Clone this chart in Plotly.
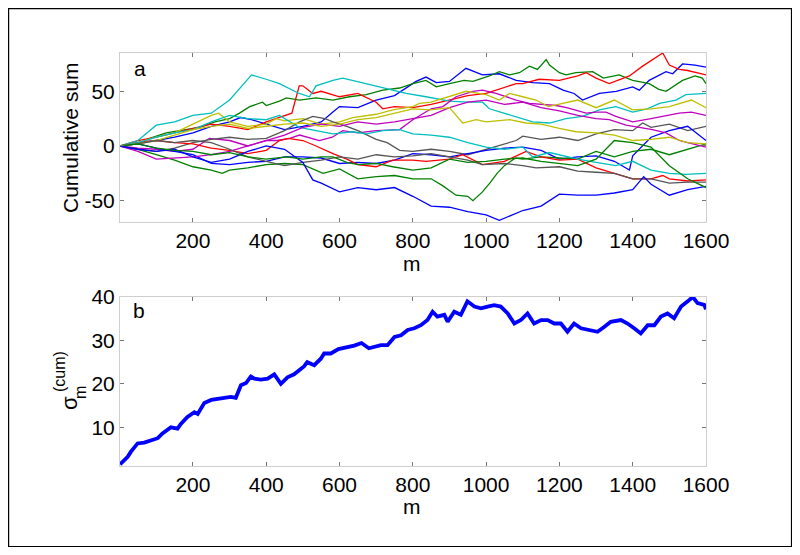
import plotly.graph_objects as go

# ---------------- data ----------------
# panel a: cumulative sums, (m, value) samples
BLUE_1 = [(0,0),(50,3),(100,5),(150,8),(200,12),(250,18),(300,22),(330,26),(360,24),(400,20),(450,15),(500,18),(550,22),(582,31),(600,36),(650,35),(700,42),(750,46),(782,53),(809,59),(836,63),(864,58),(900,59),(945,71),(990,65),(1036,66),(1082,60),(1127,58),(1173,57),(1210,51),(1240,48),(1263,42),(1309,48),(1355,50),(1400,54),(1418,51),(1445,60),(1491,68),(1509,66),(1536,75),(1570,74),(1600,72)]
GREEN_1 = [(0,0),(50,2),(82,7),(127,12),(180,15),(218,17),(260,22),(300,25),(327,30),(355,36),(390,40),(400,37),(436,41),(455,44),(491,42),(536,44),(582,42),(627,45),(673,47),(718,51),(764,53),(800,57),(836,60),(864,54),(900,57),(940,60),(964,59),(1009,64),(1036,68),(1064,65),(1091,67),(1118,73),(1140,70),(1164,79),(1173,74),(1200,67),(1218,65),(1245,67),(1291,68),(1320,62),(1363,65),(1400,60),(1445,57),(1470,52),(1491,50),(1520,56),(1536,60),(1570,64),(1590,62),(1600,57)]
RED_1 = [(0,0),(50,5),(100,8),(150,12),(200,16),(250,20),(300,18),(350,15),(400,22),(450,28),(470,30),(490,55),(500,55),(527,48),(550,50),(600,45),(650,48),(700,40),(718,34),(750,36),(800,35),(850,38),(900,42),(950,46),(1000,48),(1054,54),(1082,57),(1100,57),(1145,61),(1200,60),(1250,64),(1273,67),(1300,62),(1336,57),(1391,64),(1427,73),(1454,79),(1482,85),(1500,74),(1527,70),(1550,69),(1600,65)]
CYAN_1 = [(0,0),(50,5),(100,19),(150,22),(200,28),(250,30),(300,42),(330,54),(360,65),(400,61),(436,57),(490,48),(518,45),(536,55),(582,60),(609,62),(650,59),(673,57),(709,54),(745,51),(782,48),(836,45),(900,41),(950,40),(990,40),(1009,34),(1050,30),(1082,27),(1127,22),(1173,21),(1218,25),(1263,27),(1309,33),(1354,36),(1400,31),(1440,34),(1473,39),(1518,42),(1545,47),(1600,48)]
MAGENTA_1 = [(0,0),(50,-2),(100,-3),(150,-5),(200,-3),(245,7),(300,5),(350,0),(400,5),(430,5),(464,7),(491,10),(545,5),(580,8),(609,14),(650,12),(700,14),(764,15),(800,24),(850,34),(882,36),(918,45),(964,50),(990,51),(1027,48),(1082,42),(1118,39),(1150,38),(1191,37),(1220,35),(1250,32),(1273,30),(1300,31),(1327,31),(1354,27),(1400,22),(1450,25),(1491,28),(1527,30),(1560,31),(1600,28)]
YELLOW_1 = [(0,0),(50,3),(100,8),(150,12),(200,20),(250,28),(270,30),(300,22),(350,18),(400,20),(427,25),(450,23),(500,25),(550,20),(600,22),(636,26),(700,29),(745,33),(800,36),(818,39),(850,40),(900,45),(945,50),(980,48),(1000,47),(1036,42),(1064,48),(1100,45),(1136,42),(1170,36),(1200,38),(1250,42),(1300,35),(1350,42),(1400,33),(1450,34),(1500,36),(1536,40),(1560,42),(1600,35)]
GRAY_1 = [(0,0),(50,-3),(100,-5),(150,-2),(200,3),(250,6),(300,8),(350,6),(400,7),(450,14),(491,22),(527,27),(560,25),(582,22),(620,18),(650,14),(700,6),(730,3),(764,-4),(800,-5),(850,-3),(900,-5),(950,-8),(1000,-3),(1050,2),(1082,5),(1100,9),(1150,6),(1200,8),(1250,5),(1300,11),(1350,15),(1400,14),(1427,21),(1450,17),(1500,20),(1550,14),(1600,18)]
BLUE_2 = [(0,0),(50,2),(100,-2),(150,-5),(200,-8),(250,-16),(300,-17),(350,-15),(400,-14),(450,-10),(500,-10),(550,-11),(600,-16),(650,-15),(700,-16),(750,-13),(800,-7),(850,-8),(900,-10),(950,-7),(1000,-4),(1050,-2),(1100,-1),(1150,-4),(1200,-12),(1250,-10),(1300,-9),(1350,-14),(1391,-22),(1400,-9),(1450,8),(1500,14),(1550,18),(1600,5)]
GREEN_2 = [(0,0),(50,-3),(100,-8),(150,-13),(200,-19),(250,-22),(280,-25),(300,-22),(350,-20),(400,-17),(450,-16),(500,-17),(555,-25),(600,-21),(650,-30),(700,-28),(750,-27),(800,-30),(850,-30),(880,-36),(918,-45),(950,-46),(964,-50),(990,-42),(1010,-34),(1030,-25),(1050,-18),(1080,-11),(1100,-12),(1150,-10),(1200,-11),(1250,-12),(1300,-5),(1350,-10),(1400,-5),(1450,-3),(1500,-8),(1550,-3),(1600,2)]
RED_2 = [(0,0),(50,3),(100,5),(150,3),(200,2),(250,-2),(300,-4),(350,-7),(400,-4),(436,5),(460,7),(500,5),(536,0),(582,-7),(620,-12),(650,-17),(700,-19),(745,-13),(800,-13),(836,-14),(900,-12),(936,-8),(990,-17),(1050,-14),(1109,-5),(1150,-10),(1200,-13),(1250,-12),(1300,-20),(1350,-25),(1400,-30),(1450,-30),(1482,-27),(1500,-30),(1550,-32),(1600,-31)]
CYAN_2 = [(0,0),(50,3),(100,8),(150,12),(200,15),(250,22),(300,28),(350,25),(400,24),(436,28),(490,17),(536,14),(582,11),(636,13),(673,11),(718,14),(764,15),(800,11),(850,10),(900,8),(950,3),(1000,-1),(1050,-3),(1100,-1),(1127,-10),(1173,-6),(1200,-8),(1250,-12),(1300,-15),(1354,-18),(1400,-14),(1450,-22),(1500,-25),(1545,-26),(1600,-25)]
MAGENTA_2 = [(0,0),(50,-5),(100,-12),(150,-11),(200,-10),(250,-8),(300,-5),(350,0),(400,5),(450,10),(500,17),(550,20),(600,18),(650,22),(700,20),(750,22),(800,25),(850,28),(900,35),(950,40),(1000,42),(1050,38),(1100,40),(1150,35),(1200,32),(1250,28),(1300,25),(1336,24),(1382,19),(1400,18),(1454,15),(1491,12),(1527,5),(1550,3),(1600,-1)]
YELLOW_2 = [(0,0),(50,2),(100,5),(150,10),(200,15),(250,18),(300,20),(350,16),(400,18),(450,20),(500,21),(550,18),(600,20),(650,24),(700,26),(750,30),(800,34),(850,33),(900,35),(936,21),(973,24),(1000,22),(1064,24),(1109,21),(1150,20),(1200,16),(1245,13),(1300,12),(1350,10),(1400,5),(1450,6),(1500,8),(1550,3),(1600,2)]
GRAY_2 = [(0,0),(50,2),(100,5),(150,3),(200,5),(250,3),(300,-3),(350,-10),(400,-14),(450,-18),(500,-15),(550,-13),(600,-10),(650,-12),(700,-8),(750,-10),(800,-9),(850,-7),(900,-10),(950,-13),(990,-17),(1050,-16),(1100,-18),(1136,-20),(1200,-19),(1250,-23),(1300,-24),(1350,-25),(1400,-30),(1450,-30),(1500,-34),(1550,-33),(1600,-33)]
BLUE_3 = [(0,0),(50,-3),(100,-5),(150,-3),(200,-10),(250,-15),(300,-12),(350,-5),(400,0),(450,-3),(500,-15),(527,-31),(550,-34),(600,-42),(650,-38),(700,-40),(750,-38),(800,-46),(850,-55),(900,-56),(950,-60),(1000,-63),(1036,-68),(1050,-66),(1100,-59),(1150,-55),(1200,-44),(1250,-45),(1300,-45),(1350,-43),(1400,-40),(1430,-28),(1450,-35),(1500,-45),(1550,-40),(1600,-37)]
GREEN_3 = [(0,0),(50,2),(100,-2),(150,-4),(200,-5),(250,-8),(300,-6),(350,-10),(400,-12),(455,-10),(500,-12),(550,-10),(582,-10),(620,-15),(650,-17),(700,-16),(745,-19),(800,-22),(850,-20),(900,-12),(950,-15),(1000,-14),(1050,-12),(1100,-11),(1150,-14),(1200,-16),(1250,-18),(1300,-12),(1350,5),(1400,3),(1450,-1),(1500,-18),(1550,-30),(1600,-38)]

# panel b: sigma_m^(cum)
SIGMA = [(1,1.5),(22,3.2),(31,4.4),(49,6.3),(67,6.5),(85,7),(104,7.5),(117,8.6),(140,10),(158,9.7),(167,10.8),(185,12.4),(204,13.5),(213,13.1),(231,15.6),(250,16.3),(276,16.7),(303,17),(317,16.8),(331,19.7),(345,20.2),(358,21.7),(368,21.2),(385,21),(404,21.2),(422,22.2),(440,20),(458,21.5),(476,22.2),(503,24),(512,25),(531,24.3),(549,25.8),(558,27),(576,27),(597,28),(640,28.8),(660,29.4),(680,28.2),(713,28.9),(731,28.9),(750,30.8),(768,31.2),(786,32.4),(804,32.8),(822,33.5),(840,34.7),(854,36.6),(867,35.5),(886,35.9),(895,34.3),(913,36.6),(931,35.9),(949,39),(968,37.8),(986,37.4),(1004,37.8),(1022,38.1),(1040,37.8),(1059,36.2),(1077,33.9),(1095,34.7),(1113,36.2),(1131,33.9),(1150,34.7),(1168,34.7),(1186,33.9),(1204,33.9),(1222,32),(1240,33.9),(1259,32.8),(1286,32.4),(1304,32),(1322,33.1),(1340,34.3),(1368,34.7),(1386,33.9),(1404,32.8),(1422,31.6),(1441,33.5),(1459,33.5),(1477,35.5),(1495,36.2),(1513,35.1),(1532,37.8),(1550,39),(1564,40),(1577,38.6),(1595,38.2),(1600,37.2)]

X_TICKS = [200, 400, 600, 800, 1000, 1200, 1400, 1600]
YA_TICKS = [-50, 0, 50]
YA_LABELS = ["-50", "0", "50"]
YB_TICKS = [10, 20, 30, 40]

# ---------------- styles ----------------
C_BLUE = "rgb(0,0,255)"
C_GREEN = "rgb(0,128,0)"
C_RED = "rgb(255,0,0)"
C_CYAN = "rgb(0,191,191)"
C_MAG = "rgb(191,0,191)"
C_YEL = "rgb(191,191,0)"
C_GRAY = "rgb(85,85,85)"

series = [
    (BLUE_1, C_BLUE), (GREEN_1, C_GREEN), (RED_1, C_RED), (CYAN_1, C_CYAN),
    (MAGENTA_1, C_MAG), (YELLOW_1, C_YEL), (GRAY_1, C_GRAY),
    (BLUE_2, C_BLUE), (GREEN_2, C_GREEN), (RED_2, C_RED), (CYAN_2, C_CYAN),
    (MAGENTA_2, C_MAG), (YELLOW_2, C_YEL), (GRAY_2, C_GRAY),
    (BLUE_3, C_BLUE), (GREEN_3, C_GREEN),
]

fig = go.Figure()
for pts, col in series:
    fig.add_trace(go.Scatter(
        x=[p[0] for p in pts], y=[p[1] for p in pts], mode="lines",
        line=dict(color=col, width=1.3), xaxis="x", yaxis="y", showlegend=False))

fig.add_trace(go.Scatter(
    x=[p[0] for p in SIGMA], y=[p[1] for p in SIGMA], mode="lines",
    line=dict(color=C_BLUE, width=3.8), xaxis="x2", yaxis="y2", showlegend=False))

FONT = "Liberation Sans, Arial, sans-serif"
axis_common = dict(showline=True, linecolor="#cfcfcf", linewidth=1, mirror="ticks",
                   ticks="inside", ticklen=4, tickcolor="#777", showgrid=False,
                   zeroline=False, tickfont=dict(family=FONT, size=21, color="black"))

# The page adds an 8 px body margin, so the figure is 8 px smaller and shifted.
W, H = 792, 547
fig.update_layout(
    width=W, height=H, autosize=False,
    paper_bgcolor="white", plot_bgcolor="white",
    margin=dict(l=112, r=94, t=45, b=89),
    xaxis=dict(domain=[0, 1], range=[1, 1600], tickvals=X_TICKS, anchor="y", **axis_common),
    yaxis=dict(domain=[0.5908, 1], range=[-69.5, 85], tickvals=YA_TICKS, ticktext=YA_LABELS,
               anchor="x", **axis_common),
    xaxis2=dict(domain=[0, 1], range=[1, 1600], tickvals=X_TICKS, anchor="y2", **axis_common),
    yaxis2=dict(domain=[0, 0.4092], range=[1.1, 40], tickvals=YB_TICKS, anchor="x2", **axis_common),
)

# screen pixel -> paper coordinate helpers (screen = figure + 8)
def px_x(px):
    return (px - 120) / 586

def px_y(py):
    return (466 - py) / 413

# outer frame
fig.add_shape(type="rect", xref="paper", yref="paper",
              x0=px_x(8.6), x1=px_x(791.5), y0=px_y(546.5), y1=px_y(8.6),
              line=dict(color="black", width=1.2), fillcolor="rgba(0,0,0,0)")

def note(text, x, y, size=21, angle=0):
    fig.add_annotation(text=text, x=px_x(x), y=px_y(y), xref="paper", yref="paper",
                       showarrow=False, textangle=angle, xanchor="center", yanchor="middle",
                       font=dict(family=FONT, size=size, color="black"))

note("a", 140, 68)
note("b", 139, 310)
note("m", 412, 263)
note("m", 412, 507)
note("Cumulative sum", 70, 137, angle=-90)
note("σ", 69, 403, size=22, angle=-90)
note("m", 80, 393, size=16, angle=-90)
note("(cum)", 59, 372, size=16, angle=-90)

fig.write_html("out.html")
